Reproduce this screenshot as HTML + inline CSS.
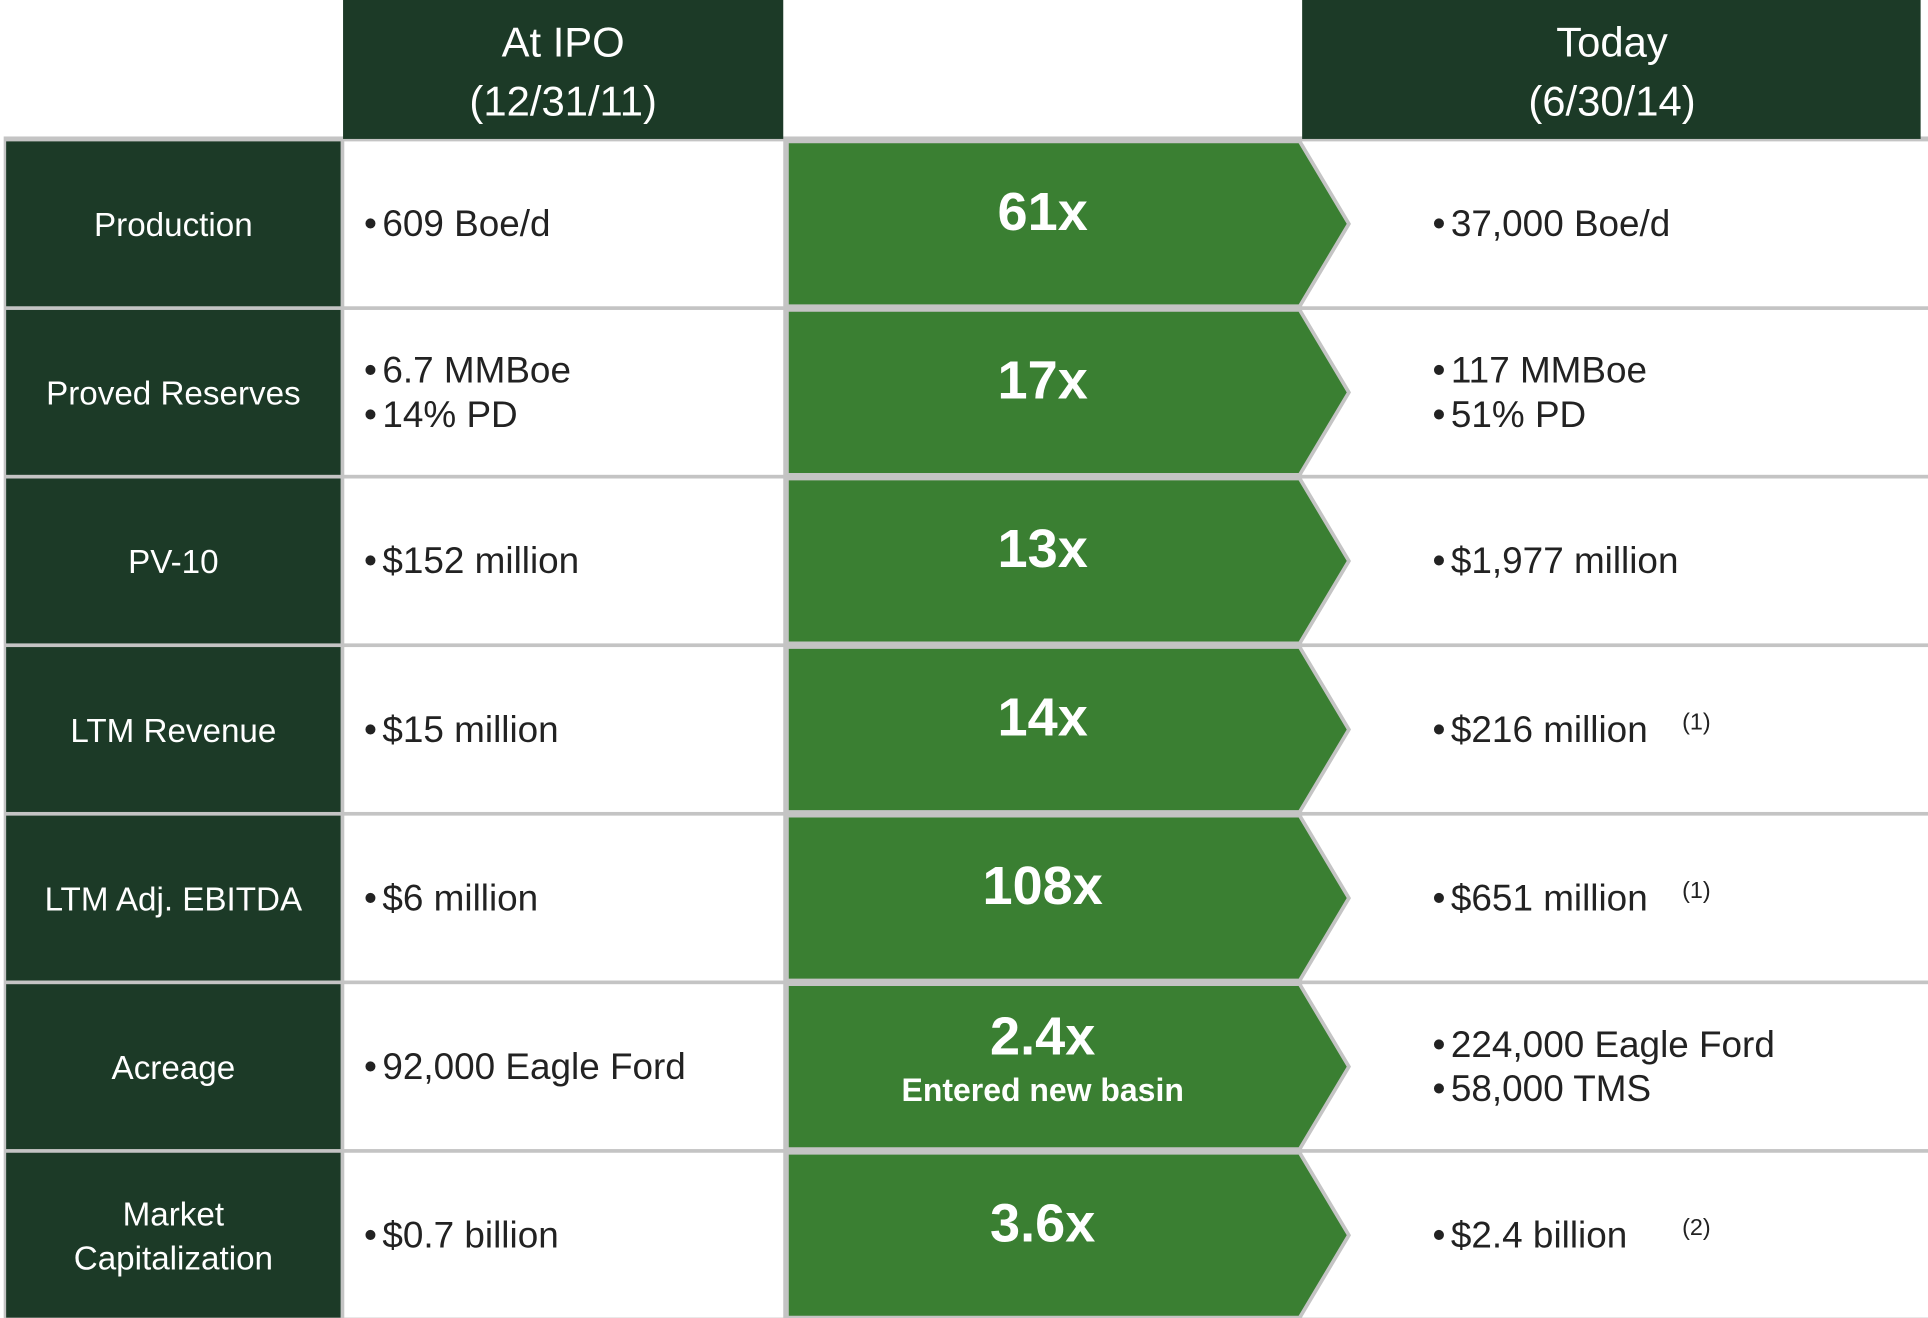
<!DOCTYPE html>
<html><head><meta charset="utf-8"><style>
html,body{margin:0;padding:0;background:#fff;width:1928px;height:1318px;overflow:hidden}
svg{display:block;font-family:"Liberation Sans",sans-serif}
</style></head><body>
<svg id="chart" width="1928" height="1318" viewBox="0 0 1568 1072" preserveAspectRatio="none" xmlns="http://www.w3.org/2000/svg">
<rect x="0" y="0" width="1568" height="1072" fill="#fff"/>
<rect x="3" y="111" width="1565" height="961" fill="#c4c4c4"/>
<rect x="279" y="0" width="358" height="113" fill="#1c3a27"/>
<text x="458" y="46" fill="#fff" font-size="34" text-anchor="middle">At IPO</text>
<text x="458" y="94" fill="#fff" font-size="34" text-anchor="middle">(12/31/11)</text>
<rect x="1059" y="0" width="503" height="113" fill="#1c3a27"/>
<text x="1311" y="46" fill="#fff" font-size="34" text-anchor="middle">Today</text>
<text x="1311" y="94" fill="#fff" font-size="34" text-anchor="middle">(6/30/14)</text>
<g id="rows"></g>
</svg>
<script>
const labels = [["Production"],["Proved Reserves"],["PV-10"],["LTM Revenue"],["LTM Adj. EBITDA"],["Acreage"],["Market","Capitalization"]];
const ipoValues = [["609 Boe/d"],["6.7 MMBoe","14% PD"],["$152 million"],["$15 million"],["$6 million"],["92,000 Eagle Ford"],["$0.7 billion"]];
const multiples = ["61x","17x","13x","14x","108x","2.4x","3.6x"];
const multipleNotes = ["","","","","","Entered new basin",""];
const todayValues = [["37,000 Boe/d"],["117 MMBoe","51% PD"],["$1,977 million"],["$216 million"],["$651 million"],["224,000 Eagle Ford","58,000 TMS"],["$2.4 billion"]];
const footnotes = ["","","","(1)","(1)","","(2)"];

const NS = "http://www.w3.org/2000/svg";
const g = document.getElementById("rows");
const top0 = 113, rowH = 137.1;
function mk(tag, attrs, text){
  const e = document.createElementNS(NS, tag);
  for (const k in attrs) e.setAttribute(k, attrs[k]);
  if (text !== undefined) e.textContent = text;
  g.appendChild(e);
  return e;
}
function bulletLines(lines, x, mid, name){
  const lh = 36;
  const start = mid - (lines.length-1)*lh/2 + 10;
  lines.forEach((t,j)=>{
    const y = start + j*lh;
    const b = mk("text",{x:x,y:y,fill:"#222","font-size":"30"},"•");
    
    
    const tx = mk("text",{x:x+15,y:y,fill:"#222","font-size":"30"},t);
    
    
  });
  return start;
}
labels.forEach((lab,i)=>{
  const t = top0 + i*rowH + 2, b = top0 + (i+1)*rowH - 1, mid = (t+b)/2;
  const lc = mk("rect",{x:5,y:t,width:272,height:b-t,fill:"#1c3a27"});
  
  
  lab.forEach((s,j)=>{
    const y = mid - (lab.length-1)*18 + j*36 + 10;
    const lt = mk("text",{x:141,y:y,fill:"#fff","font-size":"27","text-anchor":"middle"},s);
    
    
  });
  const ic = mk("rect",{x:280,y:t,width:357,height:b-t,fill:"#fff"});
  
  
  bulletLines(ipoValues[i], 296, mid, 'ipo-value');
  const tc = mk("rect",{x:1059,y:t,width:509,height:b-t,fill:"#fff"});
  
  
  const st = bulletLines(todayValues[i], 1165, mid, 'today-value');
  if (footnotes[i]) {
    const fn = mk("text",{x:1368,y:st-10,fill:"#222","font-size":"19"},footnotes[i]);
    
    
  }
  const ar = mk("polygon",{points:`640,${t} 1057,${t} 1097,${mid} 1057,${b} 640,${b}`,fill:"#3a7f32",stroke:"#c4c4c4","stroke-width":"3"});
  
  
  const hasNote = !!multipleNotes[i];
  const mv = mk("text",{x:848,y:hasNote?mid-10:mid+5,fill:"#fff","font-size":"44","font-weight":"bold","text-anchor":"middle"},multiples[i]);
  
  
  if (hasNote) {
    const nt = mk("text",{x:848,y:mid+28,fill:"#fff","font-size":"26","font-weight":"bold","text-anchor":"middle"},multipleNotes[i]);
    
    
  }
});
</script>
</body></html>
